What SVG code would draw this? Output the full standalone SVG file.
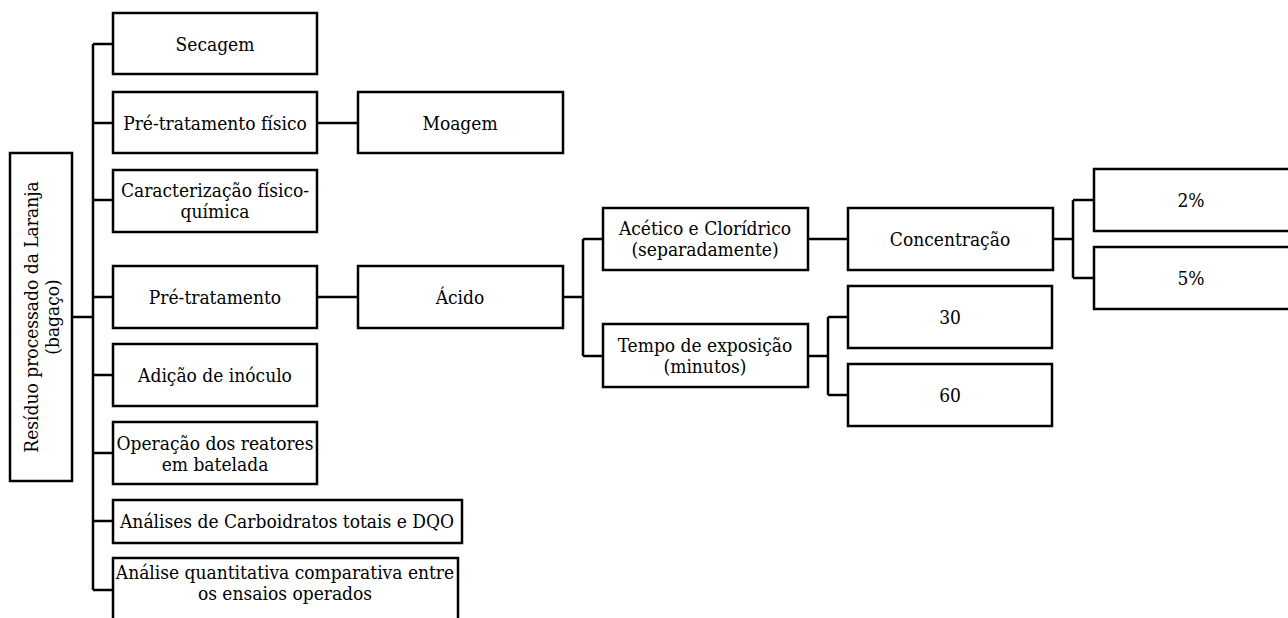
<svg xmlns="http://www.w3.org/2000/svg" width="1288" height="618" viewBox="0 0 1288 618">
<style>
.b{fill:#fff;stroke:#000;stroke-width:2.5}
.c{fill:none;stroke:#000;stroke-width:2.5}
.t{font-family:'DejaVu Serif Condensed','DejaVu Serif',serif;font-stretch:condensed;font-size:19px;fill:#000;text-anchor:middle}
</style>
<rect width="1288" height="618" fill="#fff"/>
<g id="connectors" class="c">
<path d="M72 317H93M93 44V590M93 44H113M93 123H113M93 200H113M93 297H113M93 375H113M93 453H113M93 521H113M93 590H113"/>
<path d="M317 123H358M317 297H358"/>
<path d="M563 297H583M583 239V356M583 239H603M583 356H603"/>
<path d="M808 239H848"/>
<path d="M1053 239H1073M1073 200V278M1073 200H1094M1073 278H1094"/>
<path d="M808 356H828M828 317V395M828 317H848M828 395H848"/>
</g>
<g class="t">
<g id="n-root"><rect class="b" x="10" y="153" width="62" height="328"/>
<text transform="translate(38 317) rotate(-90)">Resíduo processado da Laranja</text>
<text transform="translate(59 317) rotate(-90)">(bagaço)</text></g>
<g id="n-secagem"><rect class="b" x="113" y="13" width="204" height="61"/><text x="215" y="51">Secagem</text></g>
<g id="n-prefis"><rect class="b" x="113" y="92" width="204" height="61"/><text x="215" y="130">Pré-tratamento físico</text></g>
<g id="n-carac"><rect class="b" x="113" y="170" width="204" height="62"/><text x="215" y="197">Caracterização físico-</text><text x="215" y="218">química</text></g>
<g id="n-pretrat"><rect class="b" x="113" y="266" width="204" height="62"/><text x="215" y="304">Pré-tratamento</text></g>
<g id="n-adicao"><rect class="b" x="113" y="344" width="204" height="62"/><text x="215" y="382">Adição de inóculo</text></g>
<g id="n-operacao"><rect class="b" x="113" y="422" width="204" height="62"/><text x="215" y="450">Operação dos reatores</text><text x="215" y="471">em batelada</text></g>
<g id="n-analises"><rect class="b" x="113" y="500" width="349" height="43"/><text x="287" y="528">Análises de Carboidratos totais e DQO</text></g>
<g id="n-analise"><rect class="b" x="113" y="558" width="345" height="80"/><text x="285" y="579">Análise quantitativa comparativa entre</text><text x="285" y="600">os ensaios operados</text></g>
<g id="n-moagem"><rect class="b" x="358" y="92" width="205" height="61"/><text x="460" y="130">Moagem</text></g>
<g id="n-acido"><rect class="b" x="358" y="266" width="205" height="62"/><text x="460" y="304">Ácido</text></g>
<g id="n-acetico"><rect class="b" x="603" y="208" width="205" height="62"/><text x="705" y="235">Acético e Clorídrico</text><text x="705" y="256">(separadamente)</text></g>
<g id="n-tempo"><rect class="b" x="603" y="324" width="205" height="63"/><text x="705" y="352">Tempo de exposição</text><text x="705" y="373">(minutos)</text></g>
<g id="n-conc"><rect class="b" x="848" y="208" width="205" height="62"/><text x="950" y="246">Concentração</text></g>
<g id="n-2"><rect class="b" x="1094" y="169" width="210" height="62"/><text x="1191" y="207">2%</text></g>
<g id="n-5"><rect class="b" x="1094" y="247" width="210" height="62"/><text x="1191" y="285">5%</text></g>
<g id="n-30"><rect class="b" x="848" y="286" width="204" height="62"/><text x="950" y="324">30</text></g>
<g id="n-60"><rect class="b" x="848" y="364" width="204" height="62"/><text x="950" y="402">60</text></g>
</g>
</svg>
